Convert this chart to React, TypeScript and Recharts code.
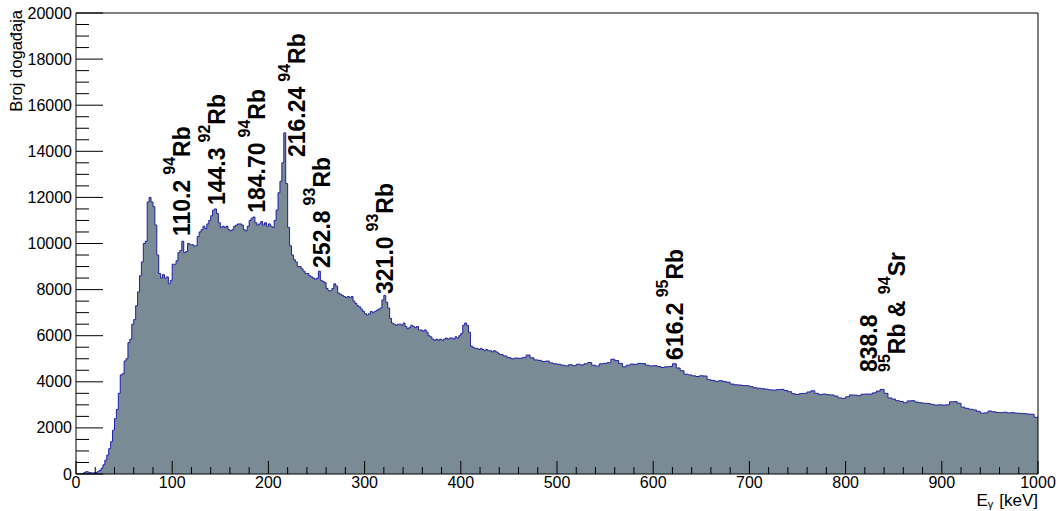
import React from 'react';
import { AreaChart, Area, XAxis, YAxis, ReferenceLine, ReferenceDot, Label } from 'recharts';

const FONT = '"Liberation Sans", Arial, Helvetica, sans-serif';

// 2 keV bins from 0 to 440 keV
const fineStart = 0;
const fineWidth = 2;
const fineCounts = [
  0, 0, 0, 20, 60, 100, 80, 60, 40, 50,
  60, 100, 150, 250, 400, 600, 820, 1100, 1400, 1900,
  2400, 2800, 3500, 4300, 4350, 4900, 5000, 5700, 5850, 6500,
  6700, 7300, 7900, 8600, 9200, 10000, 10100, 11800, 12000, 11800,
  11600, 10800, 9500, 8700, 8500, 8650, 8500, 8550, 8250, 8400,
  9100, 9100, 9250, 9600, 9700, 10100, 9600, 9650, 10000, 9950,
  9950, 9900, 9900, 10300, 10500, 10600, 10750, 10650, 10850, 11000,
  11200, 11450, 11500, 11300, 10900, 10700, 10750, 10700, 10750, 10600,
  10550, 10600, 10750, 10800, 10850, 10850, 10800, 10600, 10550, 10750,
  11000, 11100, 11150, 10900, 10800, 10850, 10950, 10800, 10900, 10750,
  10850, 10750, 10700, 11000, 11450, 12200, 12700, 13500, 14800, 12600,
  10700, 9900, 9500, 9300, 9200, 9000, 9000, 8900, 8800, 8700,
  8700, 8600, 8550, 8500, 8450, 8500, 8800, 8400, 8350, 8300,
  8050, 7950, 7950, 8050, 8250, 8150, 7850, 7800, 7750, 7700,
  7650, 7700, 7650, 7700, 7500, 7400, 7300, 7250, 7150, 7050,
  6950, 6900, 6950, 7050, 7000, 7050, 7100, 7150, 7200, 7550,
  7750, 7450, 7200, 6750, 6550, 6500, 6450, 6500, 6500, 6450,
  6550, 6400, 6300, 6350, 6450, 6400, 6350, 6400, 6250, 6250,
  6200, 6250, 6150, 6000, 5950, 5850, 5800, 5850, 5800, 5850,
  5800, 5850, 5900, 5850, 5900, 5900, 5850, 5950, 5900, 6000,
  6100, 6450, 6550, 6450, 6150, 5550, 5500, 5450, 5450, 5400,
  5450, 5400, 5350, 5400, 5350, 5350, 5300, 5350, 5300, 5250,
];

// 4 keV bins from 440 to 1000 keV
const coarseStart = 440;
const coarseWidth = 4;
const coarseCounts = [
  5180, 5120, 5050, 5000, 5030, 5020, 5060, 5160, 5040, 4950,
  4930, 4880, 4900, 4820, 4780, 4760, 4720, 4690, 4740, 4700,
  4760, 4730, 4780, 4840, 4720, 4680, 4780, 4800, 4830, 4980,
  4920, 4800, 4650, 4720, 4770, 4760, 4800, 4790, 4720, 4690,
  4700, 4660, 4620, 4650, 4660, 4780, 4600, 4480, 4330, 4300,
  4260, 4230, 4260, 4250, 4090, 4060, 4020, 4050, 4010, 3980,
  3900, 3870, 3860, 3840, 3830, 3790, 3740, 3720, 3700, 3680,
  3650, 3640, 3660, 3670, 3620, 3570, 3480, 3450, 3490, 3500,
  3560, 3610, 3500, 3440, 3470, 3440, 3430, 3380, 3300, 3280,
  3350, 3430, 3420, 3400, 3460, 3470, 3470, 3520, 3600, 3670,
  3500, 3300, 3250, 3180, 3150, 3090, 3170, 3180, 3120, 3090,
  3070, 3060, 3020, 2990, 3000, 2990, 3000, 3130, 3140, 3070,
  2900, 2850, 2810, 2780, 2720, 2640, 2650, 2730, 2700, 2670,
  2660, 2680, 2650, 2660, 2640, 2630, 2620, 2600, 2590, 2460,
];

const xMax = 1000;
const yMax = 20000;
const xTicks = Array.from({ length: 51 }, (_, i) => i * 20);
const yTicks = Array.from({ length: 41 }, (_, i) => i * 500);
const xMajorStep = 100;
const yMajorStep = 2000;

const yTitle = 'Broj događaja';

type Seg = { t: string; sup?: boolean };
type Ann = { e: number; c: number; lines: Seg[][] };

const annotations: Ann[] = [
  { e: 118.5, c: 10325, lines: [[{ t: '110.2' }, { t: '94', sup: true }, { t: 'Rb' }]] },
  { e: 154.9, c: 11670, lines: [[{ t: '144.3' }, { t: '92', sup: true }, { t: 'Rb' }]] },
  { e: 196.5, c: 11330, lines: [[{ t: '184.70' }, { t: '94', sup: true }, { t: 'Rb' }]] },
  { e: 238.0, c: 13750, lines: [[{ t: '216.24' }, { t: '94', sup: true }, { t: 'Rb' }]] },
  { e: 264.0, c: 8940, lines: [[{ t: '252.8' }, { t: '93', sup: true }, { t: 'Rb' }]] },
  { e: 329.5, c: 7810, lines: [[{ t: '321.0' }, { t: '93', sup: true }, { t: 'Rb' }]] },
  { e: 631.0, c: 4950, lines: [[{ t: '616.2' }, { t: '95', sup: true }, { t: 'Rb' }]] },
  {
    e: 832.6,
    c: 4425,
    lines: [
      [{ t: '838.8' }],
      [{ t: '95', sup: true }, { t: 'Rb & ' }, { t: '94', sup: true }, { t: 'Sr' }],
    ],
  },
];

const data = [
  ...fineCounts.map((c, i) => ({ e: fineStart + i * fineWidth, c })),
  ...coarseCounts.map((c, i) => ({ e: coarseStart + i * coarseWidth, c })),
  { e: xMax, c: coarseCounts[coarseCounts.length - 1] },
];

const renderXTick = (props: any) => {
  const { x, y, payload } = props;
  const v = payload.value;
  const major = v % xMajorStep === 0;
  return (
    <g>
      <line x1={x} y1={y} x2={x} y2={y - (major ? 13 : 7)} stroke="#000" strokeWidth={1} />
      {major && (
        <text x={x} y={y + 14} textAnchor="middle" fontFamily={FONT} fontSize={16} fill="#000">
          {v}
        </text>
      )}
    </g>
  );
};

const renderYTick = (props: any) => {
  const { x, y, payload } = props;
  const v = payload.value;
  const major = v % yMajorStep === 0;
  return (
    <g>
      <line x1={x} y1={y} x2={x + (major ? 27 : 13)} y2={y} stroke="#000" strokeWidth={1} />
      {major && (
        <text x={x - 4} y={y + 5.5} textAnchor="end" fontFamily={FONT} fontSize={16} fill="#000">
          {v}
        </text>
      )}
    </g>
  );
};

const renderLine = (segs: Seg[], key: number, cx: number, cy: number) => (
  <text
    key={key}
    x={cx}
    y={cy}
    transform={`rotate(-90, ${cx}, ${cy})`}
    fontFamily={FONT}
    fontWeight="bold"
    fontSize={23}
    fill="#000"
  >
    {segs.map((s, i) => {
      const prev = i > 0 ? segs[i - 1] : null;
      let dy = 0;
      let dx = 0;
      if (s.sup) {
        dy = -15;
        if (prev && !prev.sup && !prev.t.endsWith(' ')) dx = 5;
      } else if (prev && prev.sup) {
        dy = 15;
      }
      return (
        <tspan key={i} dx={dx} dy={dy} fontSize={s.sup ? 16 : 23}>
          {s.t}
        </tspan>
      );
    })}
  </text>
);

const makeShape = (ann: Ann) => (props: any) => {
  const { cx, cy } = props;
  return <g>{ann.lines.map((segs, i) => renderLine(segs, i, cx + i * 28, cy))}</g>;
};

const YTitle = (props: any) => {
  const { viewBox } = props;
  const x = viewBox.x + 22;
  const y = viewBox.y - 3;
  return (
    <text
      x={x}
      y={y}
      transform={`rotate(-90, ${x}, ${y})`}
      textAnchor="end"
      fontFamily={FONT}
      fontSize={16.5}
      fill="#000"
    >
      {yTitle}
    </text>
  );
};

const XTitle = (props: any) => {
  const { viewBox } = props;
  const x = viewBox.x + viewBox.width;
  const y = viewBox.y + 32;
  return (
    <text x={x} y={y} textAnchor="end" fontFamily={FONT} fontSize={17} fill="#000">
      <tspan>E</tspan>
      <tspan fontSize={11} dy={2}>γ</tspan>
      <tspan dy={-2} dx={6}>[keV]</tspan>
    </text>
  );
};

export default function App() {
  return (
    <div style={{ position: 'absolute', left: 0, top: 0, width: 1060, height: 511, background: '#fff' }}>
      <AreaChart
        width={1060}
        height={511}
        data={data}
        margin={{ top: 13, right: 22, bottom: 0, left: 0 }}
      >
        <XAxis
          dataKey="e"
          type="number"
          domain={[0, xMax]}
          ticks={xTicks}
          interval={0}
          tickLine={false}
          tickSize={0}
          tickMargin={0}
          height={37}
          axisLine={{ stroke: '#000', strokeWidth: 1 }}
          tick={renderXTick}
          allowDataOverflow
        >
          <Label content={<XTitle />} />
        </XAxis>
        <YAxis
          type="number"
          domain={[0, yMax]}
          ticks={yTicks}
          interval={0}
          tickLine={false}
          tickSize={0}
          tickMargin={0}
          width={76}
          axisLine={{ stroke: '#000', strokeWidth: 1 }}
          tick={renderYTick}
          allowDataOverflow
        >
          <Label content={<YTitle />} />
        </YAxis>
        <Area
          type="stepAfter"
          dataKey="c"
          stroke="#1f1fa8"
          strokeWidth={1}
          fill="#7a8b96"
          fillOpacity={1}
          isAnimationActive={false}
          dot={false}
          activeDot={false}
        />
        <ReferenceLine y={yMax} stroke="#000" strokeWidth={1} />
        <ReferenceLine x={xMax} stroke="#000" strokeWidth={1} />
        {annotations.map((a, i) => (
          <ReferenceDot key={i} x={a.e} y={a.c} r={0} shape={makeShape(a)} />
        ))}
      </AreaChart>
    </div>
  );
}
